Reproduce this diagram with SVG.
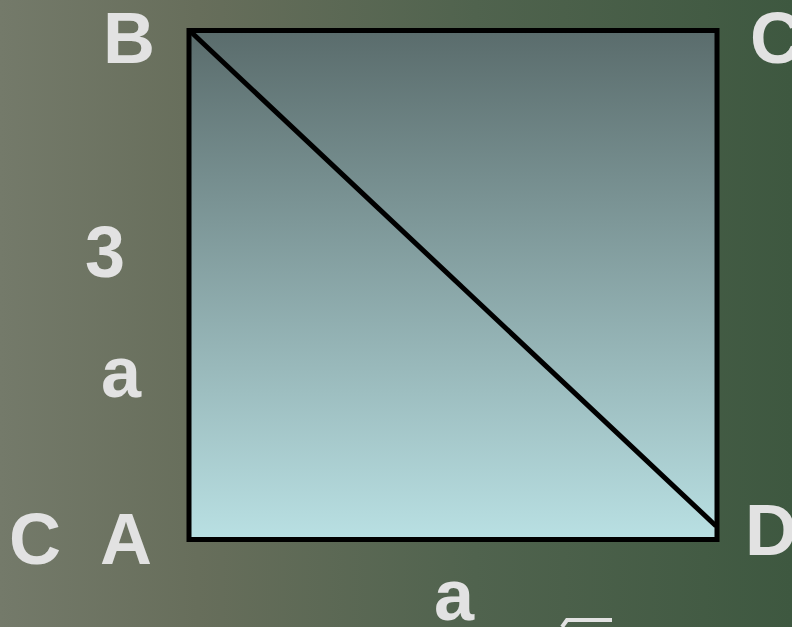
<svg xmlns="http://www.w3.org/2000/svg" width="792" height="627" viewBox="0 0 792 627">
<defs>
<linearGradient id="bg" x1="0" y1="0" x2="1" y2="0">
<stop offset="0" stop-color="#747a6a"/>
<stop offset="0.25" stop-color="#676e5b"/>
<stop offset="0.6" stop-color="#50634e"/>
<stop offset="1" stop-color="#3e5840"/>
</linearGradient>
<linearGradient id="sq" x1="0" y1="0" x2="0" y2="1">
<stop offset="0" stop-color="#5a6c6c"/>
<stop offset="1" stop-color="#b9e0e3"/>
</linearGradient>
<style>
.lbl{font-family:"Liberation Sans",Arial,sans-serif;font-weight:bold;font-size:72px;fill:#e2e2e2}
.edge{stroke:#000;stroke-width:5;fill:none}
</style>
</defs>
<rect width="792" height="627" fill="url(#bg)"/>
<g id="square">
<rect x="189" y="30.5" width="528" height="509" fill="url(#sq)" class="edge" style="fill:url(#sq)"/>
</g>
<g id="connectors">
<line x1="190" y1="31" x2="716" y2="526" class="edge"/>
</g>
<g id="labels">
<text id="B" class="lbl" x="103" y="63">B</text>
<text id="C-top" class="lbl" x="750" y="63">C</text>
<text id="three" class="lbl" x="85" y="277">3</text>
<text id="a-left" class="lbl" x="101" y="397">a</text>
<text id="C-bottom" class="lbl" x="9" y="564">C</text>
<text id="A" class="lbl" x="100" y="564">A</text>
<text id="D" class="lbl" x="745" y="555">D</text>
<text id="a-bottom" class="lbl" x="434" y="620">a</text>
<polyline points="562,627 567,620 612,620" fill="none" stroke="#e2e2e2" stroke-width="4"/>
</g>
</svg>
